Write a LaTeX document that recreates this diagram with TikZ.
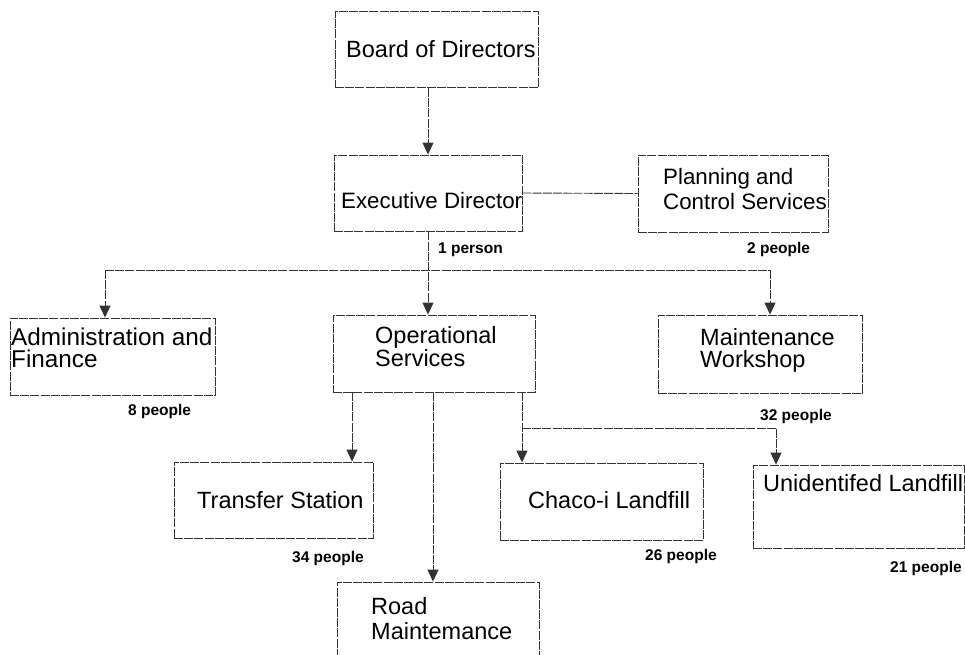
\documentclass[tikz,border=0pt]{standalone}
\usepackage{fontspec}
\setmainfont{Liberation Sans}
\usetikzlibrary{arrows.meta}
\begin{document}
\begin{tikzpicture}[x=1pt,y=-1pt,
  ln/.style={draw=black!80, line width=0.9pt, dash pattern=on 9pt off 1.2pt},
  box/.style={ln, rectangle, inner sep=0pt},
  arr/.style={ln, -{Triangle[length=12pt,width=11pt]}},
  lab/.style={anchor=base west, inner sep=0pt, align=left, font=\fontsize{23.5}{23}\selectfont},
  ppl/.style={anchor=base west, inner sep=0pt, font=\fontsize{15.5}{18}\selectfont\bfseries}]
\path[fill=white, use as bounding box] (0,0) rectangle (965,654);
% boxes
\node[box, minimum width=203pt, minimum height=76pt] (bod) at (436.5,49.5) {};
\node[box, minimum width=188pt, minimum height=76pt] (exe) at (428,193) {};
\node[box, minimum width=190pt, minimum height=77pt] (pcs) at (733,193.5) {};
\node[box, minimum width=205pt, minimum height=77pt] (adm) at (112.5,356.5) {};
\node[box, minimum width=202pt, minimum height=77pt] (ops) at (434,353.5) {};
\node[box, minimum width=204pt, minimum height=78pt] (mws) at (760,354) {};
\node[box, minimum width=199pt, minimum height=76pt] (trs) at (273.5,500) {};
\node[box, minimum width=203pt, minimum height=77pt] (cha) at (601.5,501.5) {};
\node[box, minimum width=211pt, minimum height=83pt] (uni) at (858.5,506.5) {};
\node[box, minimum width=202pt, minimum height=80pt] (road) at (438,622) {};
% texts (multi-line nodes: base = last line)
\node[lab] (bodT) at (346,57) {Board of Directors};
\node[lab, font=\fontsize{22.3}{24}\selectfont] (exeT) at (341,208) {Executive Director};
\node[lab, font=\fontsize{22.3}{25}\selectfont] (pcsT) at (663,209) {Planning and\\Control Services};
\node[lab, font=\fontsize{24.3}{22}\selectfont] (admT) at (11,367) {Administration and\\Finance};
\node[lab, font=\fontsize{23.5}{23}\selectfont] (opsT) at (375,366) {Operational\\Services};
\node[lab, font=\fontsize{23.5}{22}\selectfont] (mwsT) at (700,367) {Maintenance\\Workshop};
\node[lab] (trsT) at (197,508) {Transfer Station};
\node[lab] (chaT) at (528,508) {Chaco-i Landfill};
\node[lab] (uniT) at (763,491) {Unidentifed Landfill};
\node[lab, font=\fontsize{23.5}{25}\selectfont] (roadT) at (371,639) {Road\\Maintemance};
% people
\node[ppl] (exeP) at (438,253) {1 person};
\node[ppl] (pcsP) at (747,253) {2 people};
\node[ppl] (admP) at (128,415) {8 people};
\node[ppl] (mwsP) at (760,420) {32 people};
\node[ppl] (trsP) at (292,562) {34 people};
\node[ppl] (chaP) at (645,560) {26 people};
\node[ppl] (uniP) at (890,572) {21 people};
% connectors
\draw[arr] (bod.south -| exe.north) -- (exe.north);
\draw[ln] (exe.east) -- (pcs.west);
\coordinate (busL) at (105,270);
\coordinate (busR) at (770,270);
\draw[arr] (exe.south) -- (exe.south |- ops.north);
\draw[ln] (busL) -- (busR);
\draw[arr] (busL) -- (busL |- adm.north);
\draw[arr] (busR) -- (busR |- mws.north);
\coordinate (o1) at (352,392);
\coordinate (o2) at (433,392);
\coordinate (o3) at (522,392);
\coordinate (o3b) at (522,428);
\coordinate (o3c) at (776,428);
\draw[arr] (o1) -- (o1 |- trs.north);
\draw[arr] (o2) -- (o2 |- road.north);
\draw[arr] (o3) -- (o3 |- cha.north);
\draw[arr] (o3b) -- (o3c) -- (o3c |- uni.north);
\end{tikzpicture}
\end{document}
